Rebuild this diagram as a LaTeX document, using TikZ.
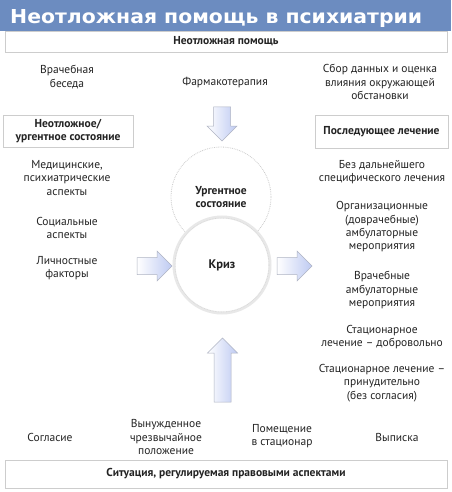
\documentclass[tikz,border=0pt]{standalone}
\usepackage{fontspec}
\setmainfont{PT Sans}
\newfontfamily\titlefont{DejaVu Sans}
\definecolor{barblue}{RGB}{108,140,192}
\definecolor{boxline}{RGB}{205,205,205}
\definecolor{arrowline}{RGB}{175,180,195}
\definecolor{arrowblue}{RGB}{190,202,242}
\definecolor{txt}{RGB}{35,35,35}
\newcommand{\blockarrow}[3]{%
  \begin{scope}[shift={#1}, rotate=#2]
    \shade[left color=white, right color=arrowblue, draw=arrowline, line width=0.5pt]
      (0,-8.5) -- (#3-15,-8.5) -- (#3-15,-15) -- (#3,0) -- (#3-15,15) -- (#3-15,8.5) -- (0,8.5) -- cycle;
  \end{scope}}
\begin{document}
\begin{tikzpicture}[x=1pt,y=-1pt,
  every node/.style={font=\fontsize{11.5}{13.3}\selectfont, text=txt, align=center, inner sep=0pt},
  labelbox/.style={draw=boxline, line width=0.6pt, font=\fontsize{11.5}{13.3}\selectfont\bfseries},
  urgcircle/.style={circle, minimum size=100pt, draw=black!20, densely dotted, line width=0.8pt, font=\fontsize{11.5}{13.3}\selectfont\bfseries},
  krizcircle/.style={circle, minimum size=96pt, fill=white, draw=black!9, line width=3pt, font=\fontsize{12.5}{14}\selectfont\bfseries}]
\useasboundingbox (0,0) rectangle (451,492);
\fill[white] (0,0) rectangle (451,492);
\fill[barblue] (0,0) rectangle (451,31);
\node[anchor=base west, text=white] (title) at (10,24) {\resizebox{412pt}{14pt}{\titlefont\bfseries Неотложная помощь в психиатрии}};

\node[labelbox, minimum width=442pt, minimum height=21pt] (np) at (226,41.5) {Неотложная помощь};

\node (beseda) at (67,77) {Врачебная\\беседа};
\node (farm) at (225,83) {Фармакотерапия};
\node (sbor) at (380,82) {Сбор данных и оценка\\влияния окружающей\\обстановки};

\node[labelbox, minimum width=130pt, minimum height=32pt] (urgbox) at (68,131) {Неотложное/\\ургентное состояние};
\node[labelbox, minimum width=133pt, minimum height=33pt] (posl) at (381.5,131.5) {Последующее лечение};

\node (med) at (67,178) {Медицинские,\\психиатрические\\аспекты};
\node (soc) at (67,228) {Социальные\\аспекты};
\node (lich) at (67,268) {Личностные\\факторы};

\node (bez) at (382,172) {Без дальнейшего\\специфического лечения};
\node (org) at (382,227) {Организационные\\(доврачебные)\\амбулаторные\\мероприятия};
\node (vrach) at (382,290) {Врачебные\\амбулаторные\\мероприятия};
\node (stac1) at (382,337) {Стационарное\\лечение – добровольно};
\node (stac2) at (382,383) {Стационарное лечение –\\принудительно\\(без согласия)};

\node[urgcircle] (urg) at (221,197) {Ургентное\\состояние};
\node[krizcircle] (kriz) at (222,265) {Криз};
\draw[black!16, densely dotted, line width=0.6pt] (kriz.center) circle (47pt);

\coordinate (aD) at (222,107);
\coordinate (aL) at (137,266);
\coordinate (aR) at (277,266);
\coordinate (aU) at (222.5,402);
\blockarrow{(aD)}{-90}{34}
\blockarrow{(aL)}{0}{35}
\blockarrow{(aR)}{0}{35}
\blockarrow{(aU)}{90}{64}

\node (sogl) at (50,437) {Согласие};
\node (vyn) at (166,437) {Вынужденное\\чрезвычайное\\положение};
\node (pom) at (282,436) {Помещение\\в стационар};
\node (vyp) at (397,437) {Выписка};

\node[labelbox, minimum width=442pt, minimum height=28pt] (sit) at (226,474) {Ситуация, регулируемая правовыми аспектами};
\end{tikzpicture}
\end{document}
